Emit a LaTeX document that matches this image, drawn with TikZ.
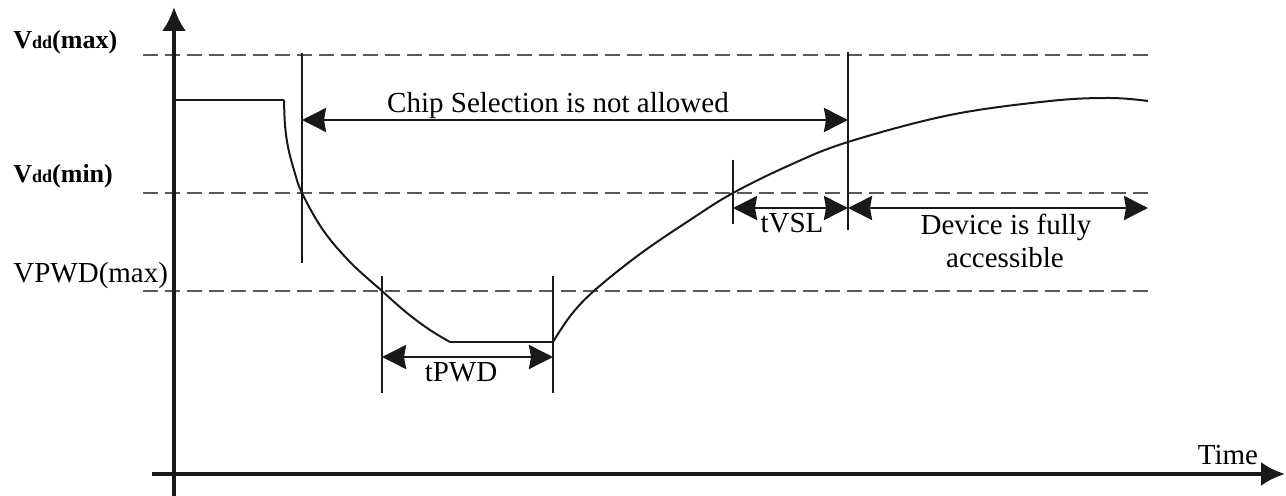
\documentclass[tikz,border=0pt]{standalone}
\usepackage{fontspec}
\setmainfont{Liberation Serif}
\usetikzlibrary{arrows.meta}
\begin{document}
\begin{tikzpicture}[x=0.5pt,y=-0.5pt,
  axisline/.style={line width=1.8pt,draw=black!90,-{Latex[length=12pt,width=12pt]}},
  dimarrow/.style={line width=1.3pt,draw=black!90,{Stealth[length=12pt,width=12pt,inset=1pt]}-{Stealth[length=12pt,width=12pt,inset=1pt]}},
  marker/.style={line width=1.3pt,draw=black!90},
  level/.style={line width=0.7pt,draw=black!65,dash pattern=on 7.5pt off 3.5pt},
  wave/.style={line width=1pt,draw=black!90},
  lbl/.style={font=\fontsize{14.5}{17}\selectfont,inner sep=0pt,anchor=base},
  vlbl/.style={font=\fontsize{13}{15}\selectfont\bfseries,inner sep=0pt,anchor=base west},
]
\useasboundingbox (0,0) rectangle (1286,496);

% level coordinates
\coordinate (maxL) at (143,55);  \coordinate (maxR) at (1148,55);
\coordinate (minL) at (143,193); \coordinate (minR) at (1148,193);
\coordinate (pwdL) at (143,291); \coordinate (pwdR) at (1148,291);

\draw[level] (maxL) -- (maxR);
\draw[level] (minL) -- (minR);
\draw[level] (pwdL) -- (pwdR);

% waveform
\coordinate (s0) at (174,100);
\coordinate (s1) at (284,100);
\coordinate (b0) at (450,342);
\coordinate (b1) at (553,342);
\draw[wave] (s0) -- (s1);
\draw[wave] plot[smooth,tension=0.6] coordinates {(284,100) (285,125) (288,147) (294,170) (302,193) (323,230) (350,262) (382,291) (407,313) (430,330) (450,342)};
\draw[wave] (b0) -- (b1);
\draw[wave] plot[smooth,tension=0.6] coordinates {(553,342) (571,315) (595,290) (640,254) (690,220) (733,193) (790,165) (848,142) (950,115) (1050,101) (1110,98) (1148,101)};

% marker lines
\coordinate (m1t) at (302,53);  \coordinate (m1b) at (302,263);
\coordinate (m2t) at (382,276); \coordinate (m2b) at (382,393);
\coordinate (m3t) at (553,276); \coordinate (m3b) at (553,393);
\coordinate (m4t) at (733,160); \coordinate (m4b) at (733,224);
\coordinate (m5t) at (848,52);  \coordinate (m5b) at (848,230);
\draw[marker] (m1t) -- (m1b);
\draw[marker] (m2t) -- (m2b);
\draw[marker] (m3t) -- (m3b);
\draw[marker] (m4t) -- (m4b);
\draw[marker] (m5t) -- (m5b);

% dimension arrows
\coordinate (c1) at (302,120); \coordinate (c2) at (848,120);
\coordinate (p1) at (382,357); \coordinate (p2) at (553,357);
\coordinate (v1) at (733,208); \coordinate (v2) at (848,208);
\coordinate (d2) at (1148,208);
\draw[dimarrow] (c1) -- (c2);
\draw[dimarrow] (p1) -- (p2);
\draw[dimarrow] (v1) -- (v2);
\draw[dimarrow] (v2) -- (d2);

% axes
\coordinate (yb) at (174,496); \coordinate (yt) at (174,7);
\coordinate (xl) at (152,474); \coordinate (xr) at (1285,474);
\draw[axisline] (yb) -- (yt);
\draw[axisline] (xl) -- (xr);

% labels
\node[vlbl] (lmax) at (13,49) {V{\fontsize{9}{10}\selectfont dd}(max)};
\node[vlbl] (lmin) at (13,183) {V{\fontsize{9}{10}\selectfont dd}(min)};
\node[lbl,anchor=base west] (lpwd) at (13,283) {VPWD(max)};
\node[lbl] (chip) at (558,113) {Chip Selection is not allowed};
\node[lbl] (tpwd) at (461,382) {tPWD};
\node[lbl] (tvsl) at (792,233) {tVSL};
\node[lbl] (dev1) at (1006,235) {Device is fully};
\node[lbl] (dev2) at (1005,268) {accessible};
\node[lbl] (time) at (1228,465) {Time};
\end{tikzpicture}
\end{document}
